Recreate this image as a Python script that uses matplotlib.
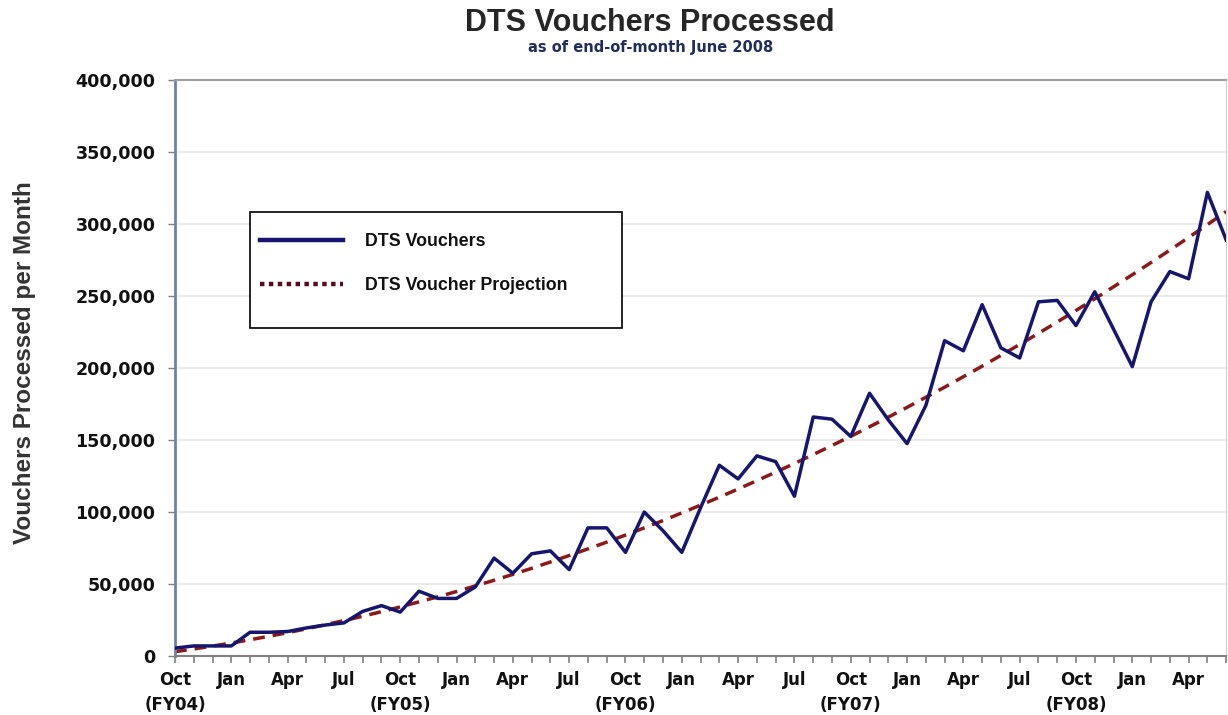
import matplotlib
matplotlib.use("Agg")
import matplotlib.pyplot as plt
from matplotlib.patches import Rectangle
from matplotlib.ticker import FuncFormatter, MultipleLocator

plt.rcParams['font.family'] = ['Liberation Sans', 'DejaVu Sans']

# months Oct 2003 (FY04) .. Jun 2008, one value per month
months = ['Oct', 'Nov', 'Dec', 'Jan', 'Feb', 'Mar', 'Apr', 'May', 'Jun', 'Jul', 'Aug', 'Sep'] * 5
months = months[:57]
fy_labels = {0: 'FY04', 12: 'FY05', 24: 'FY06', 36: 'FY07', 48: 'FY08'}

vouchers = [5500, 7000, 7000, 7000, 16500, 16500, 17000, 19500, 21500, 23000,
            31000, 35000, 30500, 45000, 40000, 40000, 48000, 68000, 57500, 71000,
            73000, 60000, 89000, 89000, 72000, 100000, 87000, 72000, 103000, 132500,
            123000, 139000, 135000, 111000, 166000, 164500, 152500, 182500, 164000, 147500,
            174000, 219000, 212000, 244000, 214000, 207000, 246000, 247000, 229500, 253000,
            227000, 201000, 246000, 267000, 262000, 322000, 289000]

projection = [3000, 4900, 6900, 9000, 11300, 13700, 16200, 18900, 21700, 24600,
              27600, 30800, 34100, 37600, 41100, 44800, 48700, 52600, 56700, 60900,
              65300, 69800, 74400, 79100, 84000, 89000, 94100, 99400, 104800, 110300,
              116000, 121800, 127700, 133700, 139900, 146200, 152600, 159200, 165900, 172700,
              179700, 186700, 194000, 201300, 208800, 216400, 224100, 232000, 240000, 248100,
              256400, 264800, 273300, 281900, 290700, 299600, 308700]

x = list(range(len(months)))

fig = plt.figure(figsize=(12.28, 7.15), dpi=100)
ax = fig.add_axes([0.1425, 0.0825, 0.856, 0.8055])

ax.plot(x, projection, color='#8B1A1A', linestyle=(0, (3.4, 2.3)), linewidth=2.5,
        label='DTS Voucher Projection', zorder=2)
ax.plot(x, vouchers, color='#16166E', linewidth=2.5, label='DTS Vouchers', zorder=3)

ax.set_xlim(0, 56)
ax.set_ylim(0, 400000)
ax.yaxis.set_major_locator(MultipleLocator(50000))
ax.yaxis.set_major_formatter(FuncFormatter(lambda v, p: f'{int(v):,}'))
ax.grid(axis='y', color='#E6E6E6', linewidth=1.2)
ax.set_axisbelow(True)

# every month gets a tick, every third month a label
tick_labels = []
for i in x:
    if i % 3 != 0:
        tick_labels.append('')
    elif i in fy_labels:
        tick_labels.append(months[i] + '\n(' + fy_labels[i] + ')')
    else:
        tick_labels.append(months[i])
ax.set_xticks(x)
ax.set_xticklabels(tick_labels, fontsize=12, fontweight='bold', color='#111111',
                   linespacing=1.5, family='DejaVu Sans')
for lab in ax.get_xticklabels():
    lab.set_horizontalalignment('center')
    lab.set_verticalalignment('top')

ax.tick_params(axis='x', length=5, width=1.2, color='#808080', pad=6)
ax.tick_params(axis='y', length=5, width=1.0, color='#808080', pad=9,
               labelsize=12.6, labelcolor='#111111')
for lab in ax.get_yticklabels():
    lab.set_fontweight('bold')
    lab.set_family('DejaVu Sans')

ax.spines['left'].set_color('#6F83A6')
ax.spines['left'].set_linewidth(2)
ax.spines['bottom'].set_color('#808080')
ax.spines['bottom'].set_linewidth(1.5)
ax.spines['top'].set_color('#A0A0A0')
ax.spines['top'].set_linewidth(1.5)
ax.spines['right'].set_color('#D0D0D0')

ax.set_ylabel('Vouchers Processed per Month', fontsize=17.5, fontweight='bold',
              color='#333333')
ax.yaxis.set_label_coords(-0.132, 0.51)

fig.text(0.529, 0.968, 'DTS Vouchers Processed', ha='center', va='center',
         fontsize=22, fontweight='bold', color='#262626')
fig.text(0.53, 0.934, 'as of end-of-month June 2008', ha='center', va='center',
         fontsize=10.5, fontweight='bold', color='#1F2F5A', family='DejaVu Sans')

# legend: white box with black edge, entries placed inside it
box = Rectangle((0.2036, 0.5413), 0.3029, 0.1622, transform=fig.transFigure,
                facecolor='white', edgecolor='black', linewidth=1.2, zorder=4)
ax.add_patch(box)
box.set_clip_on(False)

handles, labels = ax.get_legend_handles_labels()
leg = ax.legend(handles[::-1], labels[::-1], loc='upper left',
                bbox_to_anchor=(0.2117, 0.674), bbox_transform=fig.transFigure,
                frameon=False, fontsize=12.8, handlelength=4.67, handletextpad=1.24,
                borderpad=0, labelspacing=1.5, borderaxespad=0)
leg.set_zorder(5)
for t in leg.get_texts():
    t.set_fontweight('bold')
    t.set_color('#111111')
leg.get_lines()[0].set_linewidth(3.2)
leg.get_lines()[1].set_linestyle((0, (1, 1)))
leg.get_lines()[1].set_linewidth(3.2)
leg.get_lines()[1].set_color('#5A0A1E')

fig.savefig('out.png', dpi=100)
